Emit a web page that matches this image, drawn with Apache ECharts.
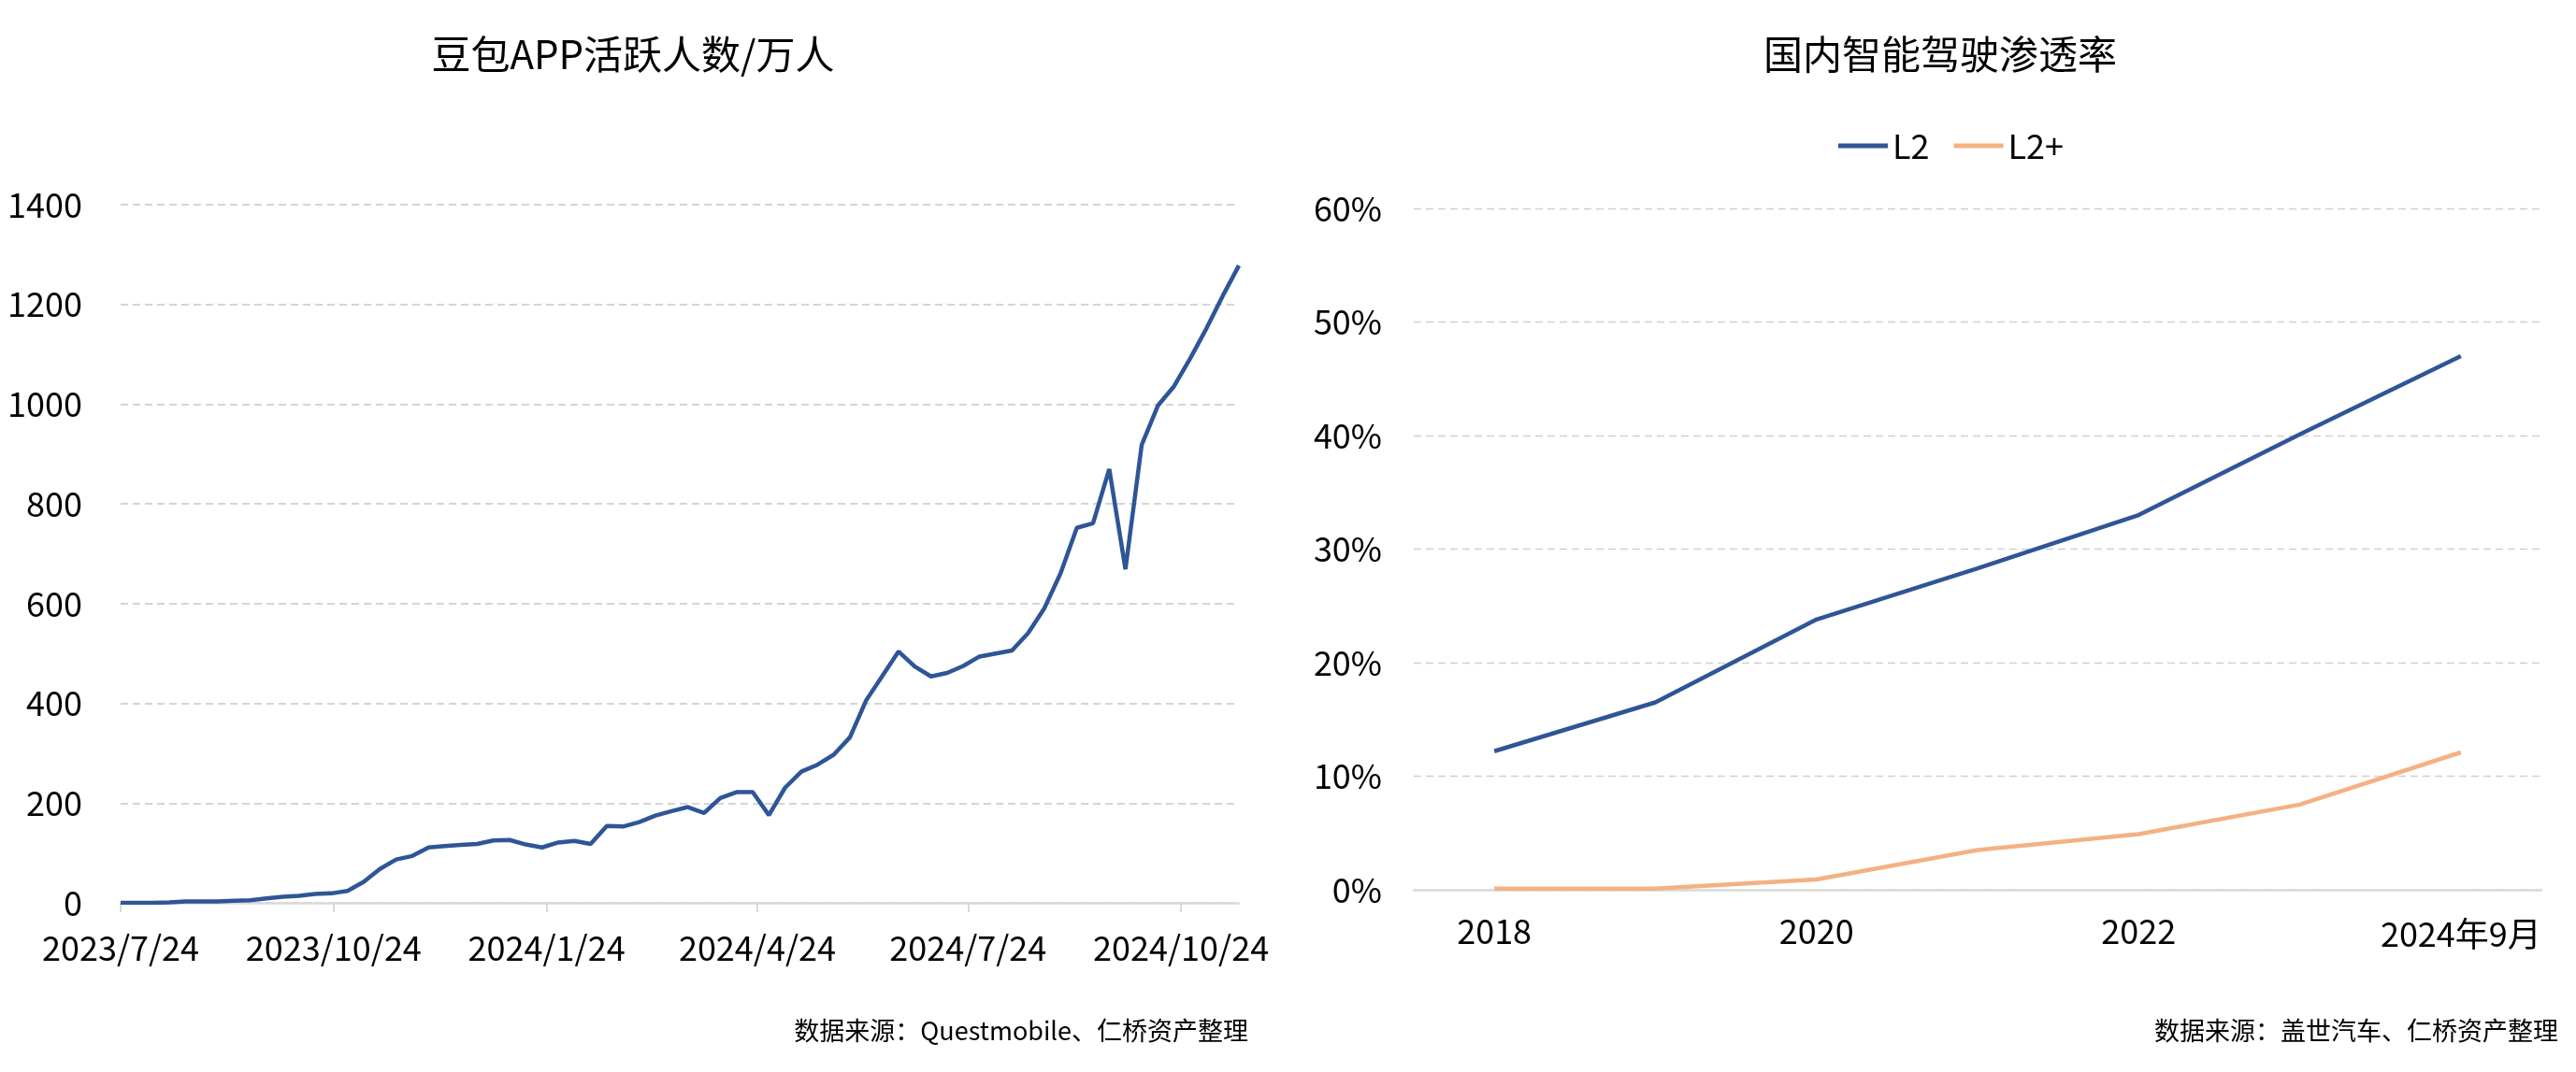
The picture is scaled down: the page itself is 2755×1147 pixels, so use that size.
<!DOCTYPE html>
<html>
<head>
<meta charset="utf-8">
<script src="https://cdn.jsdelivr.net/npm/echarts@6/dist/echarts.min.js"></script>
<style>
html,body{margin:0;padding:0;background:#fff;}
#c{width:2755px;height:1147px;}
</style>
</head>
<body>
<div id="c"></div>
<script>
// ---------- Left chart data: 豆包APP活跃人数/万人 (weekly) ----------
const appDates = [
 '2023-07-24','2023-07-31','2023-08-07','2023-08-14','2023-08-21','2023-08-28','2023-09-04','2023-09-11','2023-09-18','2023-09-25',
 '2023-10-02','2023-10-09','2023-10-16','2023-10-23','2023-10-30','2023-11-06','2023-11-13','2023-11-20','2023-11-27','2023-12-04',
 '2023-12-11','2023-12-18','2023-12-25','2024-01-01','2024-01-08','2024-01-15','2024-01-22','2024-01-29','2024-02-05','2024-02-12',
 '2024-02-19','2024-02-26','2024-03-04','2024-03-11','2024-03-18','2024-03-25','2024-04-01','2024-04-08','2024-04-15','2024-04-22',
 '2024-04-29','2024-05-06','2024-05-13','2024-05-20','2024-05-27','2024-06-03','2024-06-10','2024-06-17','2024-06-24','2024-07-01',
 '2024-07-08','2024-07-15','2024-07-22','2024-07-29','2024-08-05','2024-08-12','2024-08-19','2024-08-26','2024-09-02','2024-09-09',
 '2024-09-16','2024-09-23','2024-09-30','2024-10-07','2024-10-14','2024-10-21','2024-10-28','2024-11-04','2024-11-11','2024-11-18'
];
const appUsers = [
 0,0,0,1,3,3,3,4,5,9,
 12,14,18,19,24,42,68,87,94,111,
 114,116,118,125,126,117,111,121,124,118,
 154,153,162,175,184,192,180,210,222,222,
 176,231,263,277,297,332,406,455,504,474,
 454,461,475,494,500,506,541,591,661,752,
 761,870,669,918,997,1036,1092,1152,1217,1278
];
const appTickDates  = ['2023-07-24','2023-10-24','2024-01-24','2024-04-24','2024-07-24','2024-10-24'];
const appTickLabels = ['2023/7/24','2023/10/24','2024/1/24','2024/4/24','2024/7/24','2024/10/24'];

// ---------- Right chart data: 国内智能驾驶渗透率 (%) ----------
const adasYears = ['2018','2019','2020','2021','2022','2023','2024年9月'];
const l2Values  = [12.2,16.5,23.8,28.3,33.0,40.1,47.0];
const l2pValues = [0.1,0.1,0.9,3.5,4.9,7.5,12.1];

// ---------- helpers: dates -> day offset from first date ----------
function dayNum(s){ const p = s.split('-').map(Number); return Math.round(Date.UTC(p[0], p[1]-1, p[2]) / 86400000); }
const day0 = dayNum(appDates[0]);
const appSeries = appDates.map((d,i)=>[dayNum(d)-day0, appUsers[i]]);
const tickDays = appTickDates.map(d=>dayNum(d)-day0);
const lastDay = dayNum(appDates[appDates.length-1]) - day0;

const NUM_FONT = '"Noto Sans CJK SC",sans-serif';
const NUM_SIZE = 36;
const BLUE = '#2F5597', ORANGE = '#F4B183';

const chart = echarts.init(document.getElementById('c'), null, {renderer:'canvas'});
chart.setOption({
  animation:false,
  backgroundColor:'#fff',
  graphic:[
    {type:'text', style:{x:677, y:58, text:'豆包APP活跃人数/万人', font:'42px "Noto Sans CJK SC"', fill:'#000', textAlign:'center', textVerticalAlign:'middle'}},
    {type:'text', style:{x:2075, y:58, text:'国内智能驾驶渗透率', font:'42px "Noto Sans CJK SC"', fill:'#000', textAlign:'center', textVerticalAlign:'middle'}},
    {type:'text', style:{x:1335, y:1103, text:'数据来源：Questmobile、仁桥资产整理', font:'27px "Noto Sans CJK SC"', fill:'#000', textAlign:'right', textVerticalAlign:'middle'}},
    {type:'text', style:{x:2736, y:1103, text:'数据来源：盖世汽车、仁桥资产整理', font:'27px "Noto Sans CJK SC"', fill:'#000', textAlign:'right', textVerticalAlign:'middle'}}
  ],
  legend:{
    data:['L2','L2+'],
    left:1961, top:131,
    icon:'rect', itemWidth:53, itemHeight:5, itemGap:26,
    textStyle:{fontFamily:NUM_FONT, fontSize:NUM_SIZE, color:'#000', lineHeight:40}
  },
  grid:[
    {left:129, top:219, width:1196, height:747, outerBoundsMode:'none', containLabel:false},
    {left:1512, top:223, width:1206, height:729, outerBoundsMode:'none', containLabel:false}
  ],
  xAxis:[
    {
      gridIndex:0, type:'value',
      min:0, max:lastDay,
      axisLine:{show:true, lineStyle:{color:'#d9d9d9', width:2.5}},
      axisTick:{show:true, customValues:tickDays, length:10, lineStyle:{color:'#d9d9d9', width:2}},
      axisLabel:{
        customValues:tickDays, margin:28, fontSize:NUM_SIZE, lineHeight:40, color:'#000', fontFamily:NUM_FONT,
        formatter:function(v){ const i = tickDays.indexOf(Math.round(v)); return i>=0 ? appTickLabels[i] : ''; }
      },
      splitLine:{show:false}
    },
    {
      gridIndex:1, type:'category', data:adasYears, boundaryGap:true,
      axisLine:{show:true, lineStyle:{color:'#d9d9d9', width:2.5}},
      axisTick:{show:false},
      axisLabel:{
        interval:1, margin:24, fontSize:NUM_SIZE, lineHeight:40, color:'#000', fontFamily:NUM_FONT,
        formatter:function(v){ return v.indexOf('年')>=0 ? '{d|'+v+'}' : v; },
        rich:{d:{padding:[7,0,0,0], fontSize:NUM_SIZE, lineHeight:40, fontFamily:NUM_FONT, color:'#000'}}
      },
      splitLine:{show:false}
    }
  ],
  yAxis:[
    {
      gridIndex:0, type:'value', min:0, max:1400, interval:200,
      axisLine:{show:false}, axisTick:{show:false},
      axisLabel:{margin:41, fontSize:NUM_SIZE, color:'#000', fontFamily:NUM_FONT, formatter:function(v){ return String(v); }},
      splitLine:{show:true, lineStyle:{color:'#c8c8c8', width:1.5, type:[8,5]}}
    },
    {
      gridIndex:1, type:'value', min:0, max:60, interval:10,
      axisLine:{show:false}, axisTick:{show:false},
      axisLabel:{margin:34, fontSize:NUM_SIZE, color:'#000', fontFamily:NUM_FONT, formatter:'{value}%'},
      splitLine:{show:true, lineStyle:{color:'#d0d0d0', width:1.3, type:[8,5]}}
    }
  ],
  series:[
    {
      name:'豆包APP活跃人数', type:'line', xAxisIndex:0, yAxisIndex:0,
      data:appSeries, symbol:'none', lineStyle:{color:BLUE, width:4.5}, itemStyle:{color:BLUE}
    },
    {
      name:'L2', type:'line', xAxisIndex:1, yAxisIndex:1,
      data:l2Values, symbol:'none', lineStyle:{color:BLUE, width:4.5}, itemStyle:{color:BLUE}
    },
    {
      name:'L2+', type:'line', xAxisIndex:1, yAxisIndex:1,
      data:l2pValues, symbol:'none', lineStyle:{color:ORANGE, width:4.5}, itemStyle:{color:ORANGE}
    }
  ]
});
</script>
</body>
</html>
